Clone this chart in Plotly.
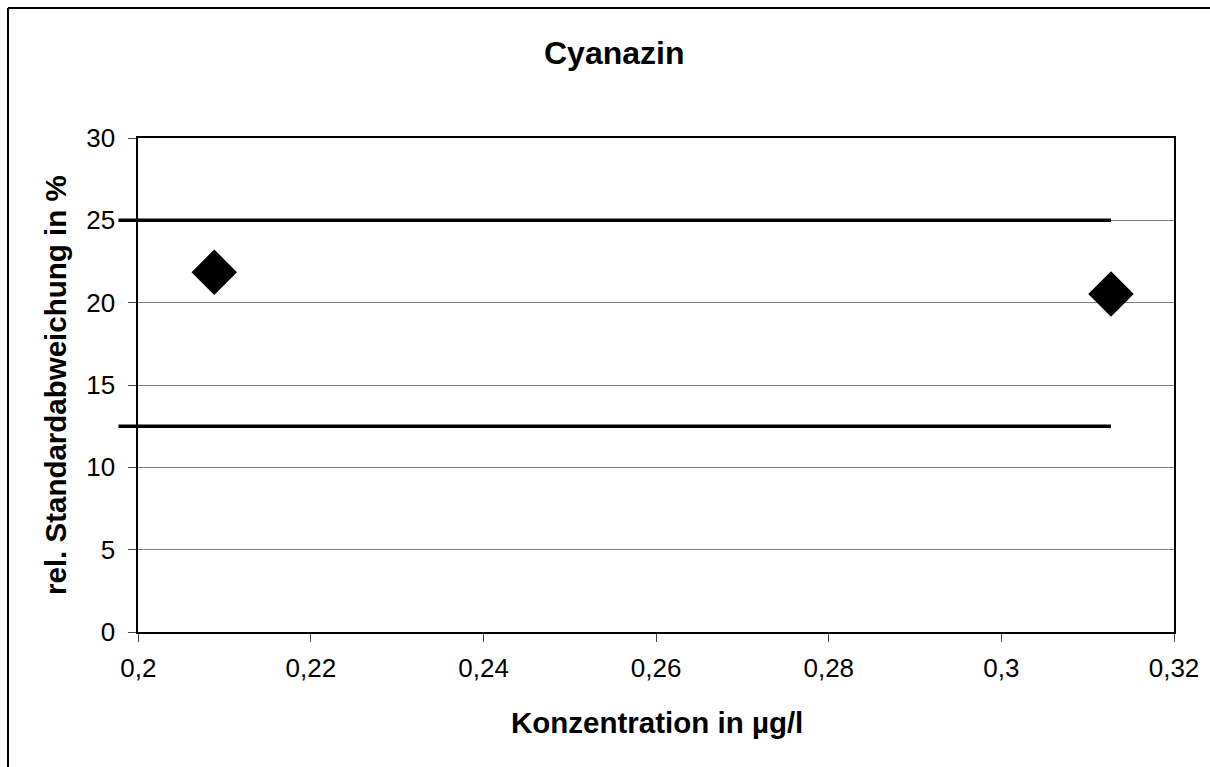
import plotly.graph_objects as go

# ---- data ----
konzentration = [0.2088, 0.3127]
rel_std = [21.85, 20.52]
grenze_x = [0.1977, 0.3127]
grenze_oben = [25.0, 25.0]
grenze_unten = [12.5, 12.5]
x_ticks = [0.2, 0.22, 0.24, 0.26, 0.28, 0.3, 0.32]
y_ticks = [0, 5, 10, 15, 20, 25, 30]

# figure fills the whole window (page margin removed below)
W, H = 1210, 767
L = 100
R = W - 1174
T = 138
B = H - 632
PW = W - L - R
PH = H - T - B
axis_left_px = 138.3
x_range = [0.2, 0.32]
y_range = [0, 30]

d_main = (axis_left_px - L) / PW
px_per_unit = (W - R - axis_left_px) / (x_range[1] - x_range[0])
x2_start = x_range[0] - (axis_left_px - L) / px_per_unit

FONT = "Liberation Sans, Arial, sans-serif"


def px_x(px):
    return (px - L) / PW


def px_y(py):
    return 1 - (py - T) / PH


fig = go.Figure()

# limit lines (on a helper axis that extends a little left of the main axis)
for yy in (grenze_oben, grenze_unten):
    fig.add_trace(go.Scatter(
        x=grenze_x, y=yy, mode="lines", xaxis="x2", yaxis="y2",
        line=dict(color="black", width=3.5), hoverinfo="skip", showlegend=False))

fig.add_trace(go.Scatter(
    x=konzentration, y=rel_std, mode="markers",
    marker=dict(symbol="diamond", size=35, color="black"),
    cliponaxis=False, showlegend=False))

fig.update_layout(
    width=W, height=H,
    margin=dict(l=L, r=R, t=T, b=B, autoexpand=False),
    paper_bgcolor="white", plot_bgcolor="rgba(0,0,0,0)",
    separators=",.",
    font=dict(family=FONT, color="black", size=26),
    showlegend=False,
    xaxis=dict(domain=[d_main, 1], range=x_range, tickvals=x_ticks,
               showgrid=False, zeroline=False,
               showline=True, linecolor="black", linewidth=2, mirror=True,
               ticks="outside", ticklen=8, tickwidth=1, tickcolor="#444",
               ticklabelstandoff=4,
               tickfont=dict(family=FONT, size=26, color="black")),
    yaxis=dict(domain=[0, 1], range=y_range, tickvals=y_ticks,
               showgrid=True, gridcolor="#808080", gridwidth=1, zeroline=False,
               showline=True, linecolor="black", linewidth=2, mirror=True,
               ticks="outside", ticklen=8, tickwidth=1, tickcolor="#444",
               ticklabelstandoff=8,
               tickfont=dict(family=FONT, size=26, color="black")),
    xaxis2=dict(domain=[0, 1], range=[x2_start, x_range[1]], visible=False,
                anchor="y2", fixedrange=True),
    yaxis2=dict(domain=[0, 1], range=y_range, visible=False, anchor="x2",
                showgrid=False, fixedrange=True),
)

# titles
fig.add_annotation(text="<b>Cyanazin</b>", xref="paper", yref="paper",
                   x=px_x(613.5), y=px_y(53),
                   xanchor="center", yanchor="middle", showarrow=False,
                   font=dict(family=FONT, size=32, color="black"))
fig.add_annotation(text="<b>Konzentration in µg/l</b>", xref="paper", yref="paper",
                   x=px_x(657), y=px_y(722),
                   xanchor="center", yanchor="middle", showarrow=False,
                   font=dict(family=FONT, size=29.5, color="black"))
fig.add_annotation(text="<b>rel. Standardabweichung in %</b>", xref="paper", yref="paper",
                   x=px_x(55), y=px_y(385), textangle=-90,
                   xanchor="center", yanchor="middle", showarrow=False,
                   font=dict(family=FONT, size=29.5, color="black"))

# outer chart border: only the left and top edges are visible in the reference
fig.add_shape(type="line", xref="paper", yref="paper",
              x0=px_x(8), x1=px_x(8), y0=px_y(800), y1=px_y(8),
              line=dict(color="black", width=2), layer="below")
fig.add_shape(type="line", xref="paper", yref="paper",
              x0=px_x(8), x1=px_x(1260), y0=px_y(8), y1=px_y(8),
              line=dict(color="black", width=2), layer="below")

fig.write_html(
    "out.html",
    config={"displayModeBar": False},
    post_script="document.body.style.margin='0';document.body.style.overflow='hidden';",
)
